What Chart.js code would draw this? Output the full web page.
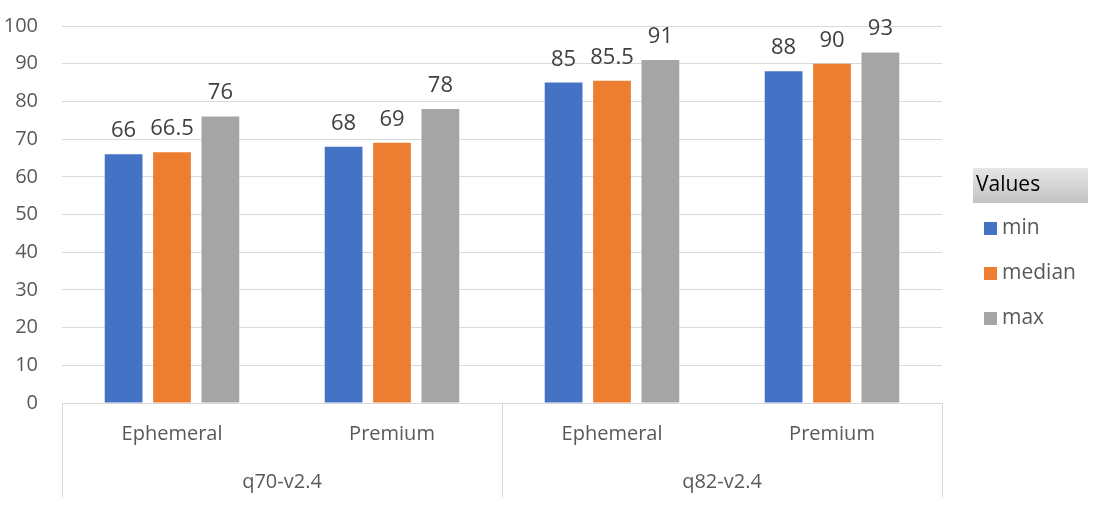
<!DOCTYPE html>
<html>
<head>
<meta charset="utf-8">
<script src="https://cdn.jsdelivr.net/npm/chart.js@4"></script>
<style>
html,body{margin:0;padding:0;background:#fff;}
#wrap{width:1097px;height:508px;position:relative;}
</style>
</head>
<body>
<div id="wrap"><canvas id="c" width="1097" height="508"></canvas></div>
<script>
const subCategories = ["Ephemeral", "Premium", "Ephemeral", "Premium"];
const groups = ["q70-v2.4", "q82-v2.4"];
const groupSizes = [2, 2];
const minValues = [66, 68, 85, 88];
const medianValues = [66.5, 69, 85.5, 90];
const maxValues = [76, 78, 91, 93];
const seriesNames = ["min", "median", "max"];
const yTicks = [0, 10, 20, 30, 40, 50, 60, 70, 80, 90, 100];
const legendTitle = "Values";

const colors = ["#4472C4", "#ED7D31", "#A5A5A5"];
const FONT = "'Open Sans', 'Liberation Sans', sans-serif";
const TXT = "#595959";
const GRID = "#d9d9d9";

const labelsPlugin = {
  id: 'custom',
  afterDatasetsDraw(chart) {
    const ctx = chart.ctx;
    ctx.save();
    ctx.fillStyle = "#404040";
    ctx.font = "22px " + FONT;
    ctx.textAlign = 'center';
    ctx.textBaseline = 'alphabetic';
    chart.data.datasets.forEach((ds, di) => {
      const meta = chart.getDatasetMeta(di);
      meta.data.forEach((bar, i) => {
        ctx.fillText(String(ds.data[i]), bar.x, bar.y - 17);
      });
    });
    ctx.restore();
  },
  afterDraw(chart) {
    const ctx = chart.ctx;
    const x = chart.scales.x;
    const area = chart.chartArea;
    ctx.save();
    const n = subCategories.length;
    const step = (area.right - area.left) / n;
    let bounds = [area.left];
    let acc = 0;
    groupSizes.forEach(s => { acc += s; bounds.push(area.left + acc * step); });
    ctx.strokeStyle = GRID;
    ctx.lineWidth = 1;
    bounds.forEach(b => {
      const bx = Math.round(b) + 0.5;
      ctx.beginPath();
      ctx.moveTo(bx, area.bottom);
      ctx.lineTo(bx, area.bottom + 94);
      ctx.stroke();
    });
    ctx.fillStyle = TXT;
    ctx.font = "20px " + FONT;
    ctx.textAlign = 'center';
    ctx.textBaseline = 'middle';
    subCategories.forEach((s, i) => {
      ctx.fillText(s, x.getPixelForValue(i), area.bottom + 31);
    });
    for (let g = 0; g < groups.length; g++) {
      ctx.fillText(groups[g], (bounds[g] + bounds[g + 1]) / 2, area.bottom + 79);
    }
    // legend
    const lx = 973, ly = 168, lw = 115, lh = 35;
    const grad = ctx.createLinearGradient(0, ly, 0, ly + lh);
    grad.addColorStop(0, "#e6e6e6");
    grad.addColorStop(1, "#c3c3c3");
    ctx.fillStyle = grad;
    ctx.fillRect(lx, ly, lw, lh);
    ctx.fillStyle = "#000";
    ctx.textAlign = 'left';
    ctx.font = "21px " + FONT;
    ctx.fillText(legendTitle, lx + 3, ly + lh / 2);
    const rows = [228, 273, 318];
    seriesNames.forEach((nm, i) => {
      ctx.fillStyle = colors[i];
      ctx.fillRect(984, rows[i] - 6, 13, 13);
      ctx.fillStyle = TXT;
      ctx.font = "21px " + FONT;
      ctx.fillText(nm, 1002, rows[i]);
    });
    ctx.restore();
  }
};

new Chart(document.getElementById('c'), {
  type: 'bar',
  data: {
    labels: subCategories,
    datasets: [
      { label: seriesNames[0], data: minValues, backgroundColor: colors[0] },
      { label: seriesNames[1], data: medianValues, backgroundColor: colors[1] },
      { label: seriesNames[2], data: maxValues, backgroundColor: colors[2] }
    ]
  },
  options: {
    responsive: false,
    animation: false,
    devicePixelRatio: 1,
    categoryPercentage: 0.66,
    barPercentage: 0.78,
    layout: { padding: { left: 0, right: 155, top: 26, bottom: 0 } },
    plugins: { legend: { display: false }, tooltip: { enabled: false } },
    scales: {
      x: {
        grid: { display: false },
        border: { display: true, color: GRID, width: 1 },
        ticks: { display: false },
        afterFit(s) { s.height = 105; s.paddingLeft = 0; s.paddingRight = 0; }
      },
      y: {
        min: 0, max: 100,
        afterBuildTicks(s) { s.ticks = yTicks.map(v => ({ value: v })); },
        grid: { color: GRID, lineWidth: 1, drawTicks: false },
        border: { display: false },
        ticks: { color: TXT, font: { family: FONT, size: 20 }, padding: 24 },
        afterFit(s) { s.width = 62; s.paddingTop = 0; s.paddingBottom = 0; }
      }
    }
  },
  plugins: [labelsPlugin]
});
</script>
</body>
</html>
